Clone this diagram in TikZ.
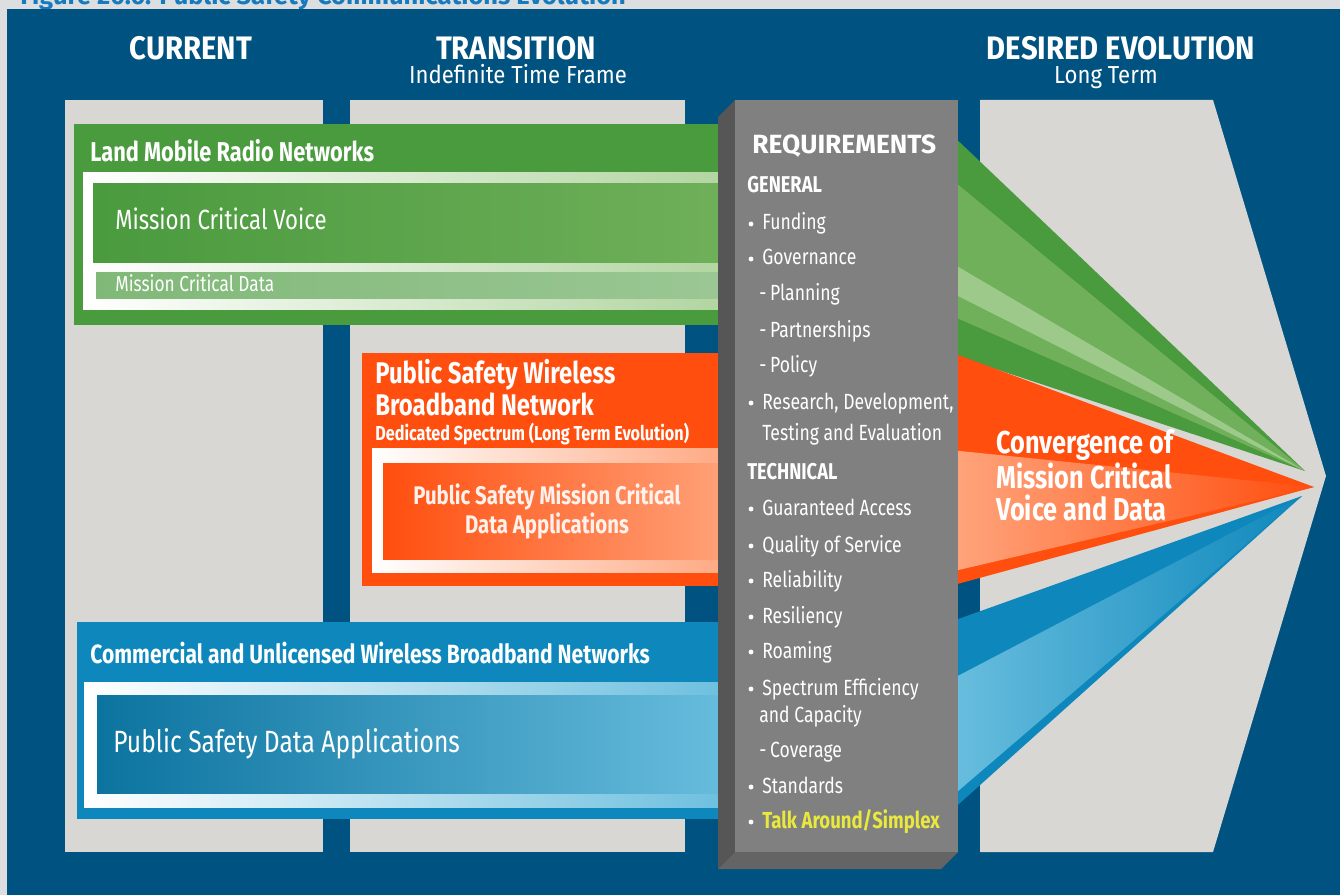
\documentclass[tikz,border=0pt]{standalone}
\usepackage{fontspec}
\setmainfont[FakeStretch=0.8]{Fira Sans}
\newfontfamily\widefont{Fira Sans}
\newfontfamily\semifont[FakeStretch=0.9]{Fira Sans}
\usetikzlibrary{positioning}

\definecolor{navy}{RGB}{0,83,128}
\definecolor{colgray}{RGB}{216,215,212}
\definecolor{capgray}{RGB}{221,222,224}
\definecolor{capblue}{RGB}{22,122,190}
\definecolor{lmr}{RGB}{74,154,62}
\definecolor{lmrlt}{RGB}{112,176,90}
\definecolor{lmrpale}{RGB}{176,212,158}
\definecolor{pswb}{RGB}{255,78,14}
\definecolor{pswblt}{RGB}{255,165,125}
\definecolor{cwb}{RGB}{14,136,188}
\definecolor{cwblt}{RGB}{105,190,222}
\definecolor{reqgray}{RGB}{128,128,128}
\definecolor{reqside}{RGB}{86,86,86}
\definecolor{reqbot}{RGB}{100,100,100}
\definecolor{talk}{RGB}{232,232,62}

\begin{document}
\begin{tikzpicture}[
  x=0.2mm, y=-0.2mm,
  txt/.style={text=white, inner sep=0pt, anchor=base west},
  hdr/.style={text=white, inner sep=0pt, anchor=base,
    font=\semifont\fontsize{18.5}{21}\selectfont\bfseries},
  sub/.style={text=white, inner sep=0pt, anchor=base,
    font=\semifont\fontsize{14}{16}\selectfont},
  bandtitle/.style={txt, font=\fontsize{15.5}{19}\selectfont\bfseries},
  item/.style={txt, font=\fontsize{12.5}{15}\selectfont},
  grp/.style={txt, font=\fontsize{13}{15}\selectfont\bfseries},
  dot/.style={circle, fill=white, inner sep=0pt, minimum size=2.8pt}
]
\useasboundingbox (0,0) rectangle (1340,895);

% background and cut-off caption
\fill[capgray] (0,0) rectangle (1340,895);
\fill[navy] (7,9) rectangle (1340,895);
\begin{scope}
  \clip (0,0) rectangle (1340,9);
  \node[txt, text=capblue, font=\widefont\fontsize{14.5}{18}\selectfont\bfseries] (cap)
    at (20,5) {Figure 20.6: Public Safety Communications Evolution};
\end{scope}

% time columns
\fill[colgray] (65,100) rectangle (323,852);
\fill[colgray] (350,100) rectangle (685,852);
\fill[colgray] (980,100) -- (1213,100) -- (1326,476) -- (1213,852)
  -- (980,852) -- cycle;

\node[hdr] (current) at (191,60) {CURRENT};
\node[hdr] (transition) at (516,60) {TRANSITION};
\node[sub] (indef) at (518,84) {Indefinite Time Frame};
\node[hdr] (desired) at (1121,60) {DESIRED EVOLUTION};
\node[sub] (longterm) at (1106,84) {Long Term};

% land mobile radio
\fill[lmr] (74,124) rectangle (740,325);
\shade[left color=white, right color=lmrpale] (83,173) rectangle (740,310);
\shade[left color=lmr, right color=lmrlt] (93,184) rectangle (740,263);
\shade[left color=lmr!70!white, right color=lmr!55!white] (96,273) rectangle (740,299);
\node[bandtitle] (lmrnet) at (90,162) {Land Mobile Radio Networks};
\node[txt, font=\fontsize{15.8}{18}\selectfont] (mcv) at (115,230) {Mission Critical Voice};
\node[txt, font=\fontsize{12.3}{14}\selectfont] (mcd) at (115,292) {Mission Critical Data};

% public safety broadband
\fill[pswb] (362,353) rectangle (740,586);
\shade[left color=white, right color=pswblt] (372,448) rectangle (740,572);
\shade[left color=pswb, right color=pswblt] (383,463) rectangle (740,559);
\node[txt, align=left, font=\fontsize{17}{18.1}\selectfont\bfseries] (psbn)
  at (375,415) {Public Safety Wireless\\Broadband Network};
\node[txt, font=\fontsize{11.5}{13}\selectfont\bfseries] (lte)
  at (375,440) {Dedicated Spectrum (Long Term Evolution)};
\node[txt, anchor=base, align=center, font=\fontsize{14.5}{14.7}\selectfont\bfseries,
  text=white!92!pswb] (psmc) at (547,533)
  {Public Safety Mission Critical\\Data Applications};

% commercial broadband
\fill[cwb] (77,622) rectangle (740,819);
\shade[left color=white, right color=cwblt] (84,682) rectangle (740,807);
\shade[left color=cwb!85!black, right color=cwblt] (97,695) rectangle (740,793);
\node[txt, font=\fontsize{15}{17}\selectfont\bfseries] (cunl)
  at (90,663) {Commercial and Unlicensed Wireless Broadband Networks};
\node[txt, font=\fontsize{17.5}{19}\selectfont] (psda)
  at (113,752) {Public Safety Data Applications};

% converging wedges
\fill[lmr] (950,133) -- (1305,471) -- (950,354) -- cycle;
\fill[lmrlt] (950,178) -- (1305,471) -- (950,315) -- cycle;
\fill[lmrpale!70!lmrlt] (950,262) -- (1305,471) -- (950,292) -- cycle;
\fill[pswb] (950,352) -- (1314,487) -- (950,586) -- cycle;
\shade[left color=pswblt, right color=pswb] (950,450) -- (1314,487) -- (950,572) -- cycle;
\fill[cwb] (950,622) -- (1302,496) -- (950,812) -- cycle;
\shade[left color=cwblt, right color=cwb] (950,680) -- (1302,496) -- (950,798) -- cycle;
\node[txt, align=left, font=\fontsize{18}{18.2}\selectfont\bfseries] (conv)
  at (996,520) {Convergence of\\Mission Critical\\Voice and Data};

% requirements block
\fill[reqside] (735,100) -- (718,117) -- (718,869) -- (735,852) -- cycle;
\fill[reqbot] (718,869) -- (941,869) -- (958,852) -- (735,852) -- cycle;
\fill[reqgray] (735,100) rectangle (958,852);

\node[txt, font=\widefont\fontsize{15}{17}\selectfont\bfseries] (req)
  at (752,154) {REQUIREMENTS};
\node[grp] (general) at (747,193) {GENERAL};
\node[grp] (technical) at (747,479) {TECHNICAL};

\foreach \y/\t [count=\i] in {230/Funding, 265/Governance,
    409/{Research, Development,}, 515/Guaranteed Access,
    552/Quality of Service, 587/Reliability, 623/Resiliency,
    658/Roaming, 695/Spectrum Efficiency, 793/Standards} {
  \node[dot] (rb\i) at (751,\y-6) {};
  \node[item] (ri\i) at (762,\y) {\t};
}
\foreach \y/\t [count=\i] in {301/Planning, 337/Partnerships,
    372/Policy, 757/Coverage} {
  \node[item] (rd\i) at (759,\y) {-\,\t};
}
\node[item] (rtest) at (762,440) {Testing and Evaluation};
\node[item] (rcap) at (759,722) {and Capacity};
\node[dot] (rbtalk) at (751,822) {};
\node[item, text=talk, font=\fontsize{13.2}{15}\selectfont\bfseries] (rtalk)
  at (762,828) {Talk Around/Simplex};

\end{tikzpicture}
\end{document}
